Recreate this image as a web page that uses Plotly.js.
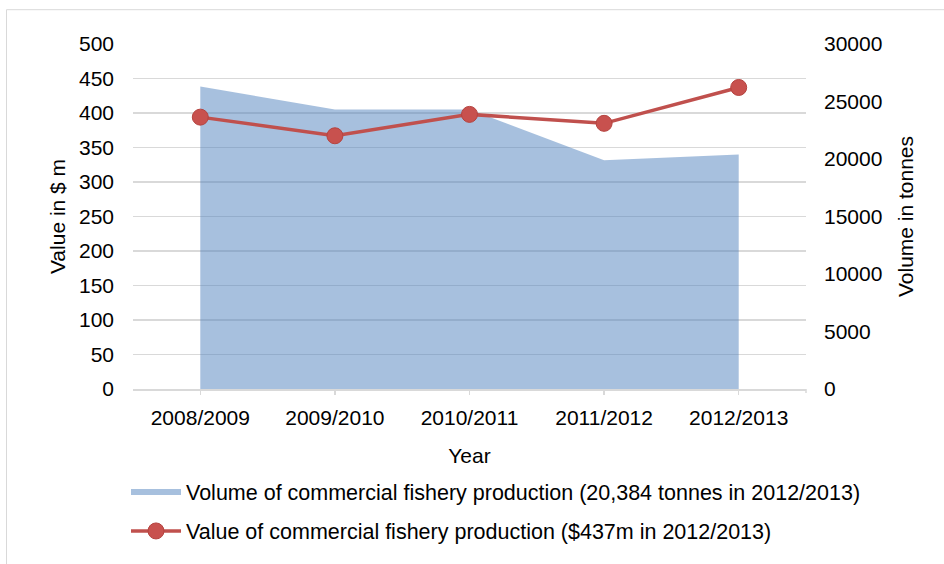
<!DOCTYPE html>
<html>
<head>
<meta charset="utf-8">
<script src="https://cdn.plot.ly/plotly-3.0.1.min.js"></script>
<style>html,body{margin:0;padding:0;background:#fff;}#chart{width:944px;height:564px;}</style>
</head>
<body>
<div id="chart"></div>
<script>
var years = ["2008/2009", "2009/2010", "2010/2011", "2011/2012", "2012/2013"];
var volumeTonnes = [26300, 24300, 24300, 19900, 20384];
var valueMillions = [394, 367, 398, 385, 437];
var volumeName = "Volume of commercial fishery production (20,384 tonnes in 2012/2013)";
var valueName = "Value of commercial fishery production ($437m in 2012/2013)";
var leftTicks = [0, 50, 100, 150, 200, 250, 300, 350, 400, 450, 500];
var rightTicks = [0, 5000, 10000, 15000, 20000, 25000, 30000];

var FONT = "Liberation Sans, Arial, sans-serif";
var FS = 21;
var L = 133, R = 138, T = 44, B = 173, W = 944, H = 564;
var pw = W - L - R, ph = H - T - B;
function px2x(p) { return (p - L) / pw; }
function px2y(p) { return (H - B - p) / ph; }

// area on base axis "y" (shown on right), line on overlaying "y2" (shown on left) so the line is drawn on top
var traces = [
  {
    x: years, y: volumeTonnes, name: volumeName, yaxis: "y",
    type: "scatter", mode: "none", fill: "tozeroy",
    fillcolor: "rgba(79,129,189,0.5)", legendgroup: "a"
  },
  {
    x: years, y: valueMillions, name: valueName, yaxis: "y2",
    type: "scatter", mode: "lines+markers",
    line: {color: "#C0504D", width: 3.5},
    marker: {color: "#C8514E", size: 16, line: {color: "#B5433F", width: 1}},
    legendgroup: "b"
  }
];

var layout = {
  width: W, height: H,
  margin: {l: L, r: R, t: T, b: B, pad: 0},
  paper_bgcolor: "#fff", plot_bgcolor: "rgba(0,0,0,0)",
  font: {family: FONT, size: FS, color: "#000"},
  showlegend: true,
  xaxis: {
    type: "category", range: [-0.5, 4.5],
    showline: true, linecolor: "#d9d9d9", linewidth: 2,
    ticks: "outside", ticklen: 4, tickwidth: 1.5, tickcolor: "#d9d9d9",
    showgrid: false, zeroline: false,
    tickfont: {family: FONT, size: FS, color: "#000"},
    ticklabelstandoff: 5,
    title: {text: "Year", font: {family: FONT, size: FS, color: "#000"}, standoff: 20},
    automargin: false
  },
  yaxis: {
    side: "right",
    range: [0, 30000], tickvals: rightTicks, ticktext: rightTicks.map(String),
    showgrid: false, zeroline: false, showline: false, ticks: "",
    tickfont: {family: FONT, size: FS, color: "#000"},
    ticklabelstandoff: 17,
    title: {text: "Volume in tonnes", font: {family: FONT, size: FS, color: "#000"}, standoff: 16},
    automargin: false
  },
  yaxis2: {
    overlaying: "y", side: "left",
    range: [0, 500], tickvals: leftTicks, ticktext: leftTicks.map(String),
    showgrid: true, gridcolor: "#d9d9d9", gridwidth: 1.5,
    zeroline: false, showline: false, ticks: "",
    tickfont: {family: FONT, size: FS, color: "#000"},
    ticklabelstandoff: 18,
    title: {text: "Value in $ m", font: {family: FONT, size: FS, color: "#000"}, standoff: 7},
    automargin: false
  },
  legend: {
    x: px2x(126), xanchor: "left",
    y: px2y(474), yanchor: "top",
    orientation: "v", traceorder: "grouped", tracegroupgap: 8,
    font: {family: FONT, size: 21.5, color: "#000"},
    bgcolor: "rgba(0,0,0,0)", itemwidth: 50
  },
  shapes: [
    {type: "rect", xref: "paper", yref: "paper",
     x0: px2x(6.5), x1: px2x(1000), y0: px2y(700), y1: px2y(9.5),
     line: {color: "#d9d9d9", width: 1}, fillcolor: "rgba(0,0,0,0)", layer: "below"},
    {type: "line", xref: "paper", yref: "paper",
     x0: 1, x1: 1, y0: 0, y1: px2y(395),
     line: {color: "#d9d9d9", width: 1.5}}
  ]
};

Plotly.newPlot("chart", traces, layout, {displayModeBar: false, staticPlot: true});
</script>
</body>
</html>
